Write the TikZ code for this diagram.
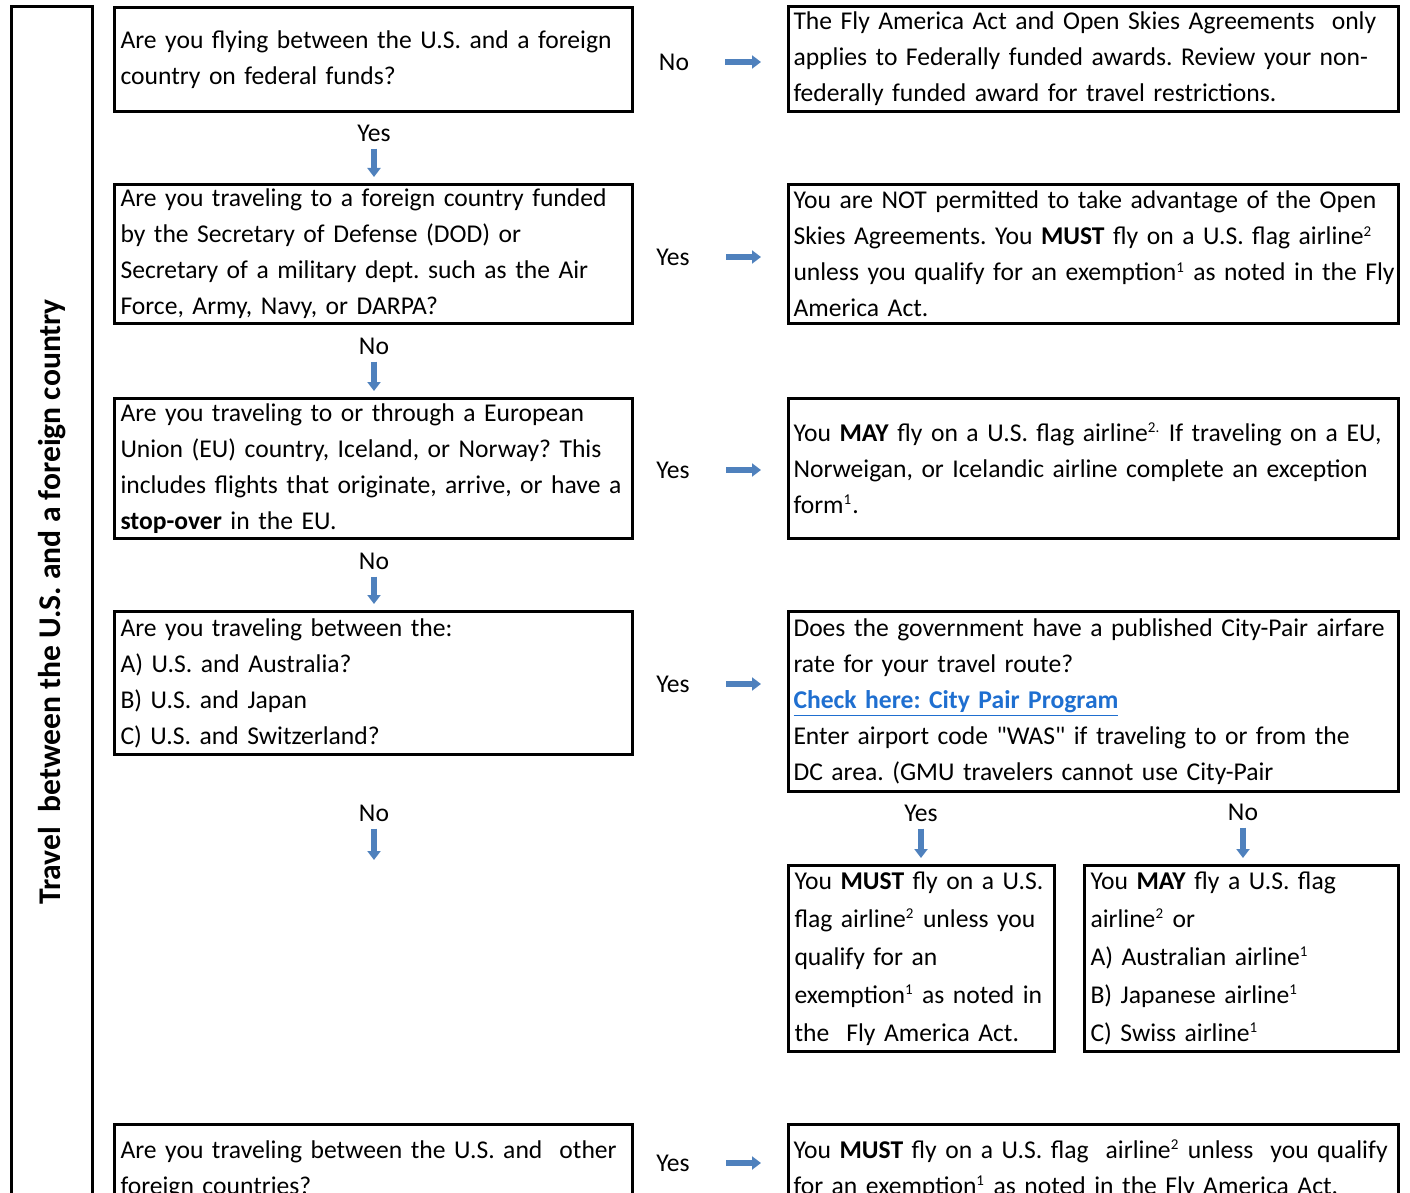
\documentclass[tikz,border=0pt]{standalone}
\usepackage{fontspec}
\setmainfont{Carlito}
\newfontfamily\quotefont{Carlito}
\usepackage{xcolor}
\definecolor{arrowblue}{HTML}{4F81BD}
\definecolor{linkblue}{HTML}{1F6FD0}
\usetikzlibrary{arrows.meta}

\newcommand{\sfont}{\fontsize{12.8pt}{18pt}\selectfont}
\newcommand{\fnm}[1]{\textsuperscript{\fontsize{7.5pt}{8pt}\selectfont #1}}
\newcommand{\dq}{{\quotefont"}}
\frenchspacing

\begin{document}
\begin{tikzpicture}[x=0.5pt,y=-0.5pt,
    box/.style={draw,line width=1.5pt,anchor=north west,align=left,inner xsep=3pt,inner ysep=2pt,font=\sfont},
    qbox/.style={box,minimum width=259pt,text width=253pt},
    abox/.style={box,minimum width=305pt,text width=300pt,inner xsep=2.5pt},
    lab/.style={inner sep=0pt,font=\sfont},
    varrow/.style={line width=2.75pt,arrowblue,-{Triangle[length=4.5pt,width=6.5pt]},shorten <=3.5pt,shorten >=3pt},
    harrow/.style={line width=2.75pt,arrowblue,-{Triangle[length=4.5pt,width=6.5pt]},shorten <=18pt,shorten >=13pt}]

  \useasboundingbox (0,0) rectangle (1410,1193);
  \clip (0,0) rectangle (1410,1193);

  \node[draw,line width=1.5pt,rotate=90,minimum width=595.5pt,minimum height=40.5pt,
        font=\fontsize{15.8pt}{18pt}\selectfont\bfseries] (side) at (52,602)
        {Travel\ \ between the U.S. and a foreign country};

  % questions
  \node[qbox,minimum height=52pt] (q1) at (113,6)
    {Are you flying between the U.S. and a foreign\\ country on federal funds?};
  \node[qbox,minimum height=69.5pt] (q2) at (113,183)
    {Are you traveling to a foreign country funded\\ by the Secretary of Defense (DOD) or\\
     Secretary of a military dept. such as the Air\\ Force, Army, Navy, or DARPA?};
  \node[qbox,minimum height=70pt] (q3) at (113,397)
    {Are you traveling to or through a European\\ Union (EU) country, Iceland, or Norway? This\\
     includes flights that originate, arrive, or have a\\ \textbf{stop-over} in the EU.};
  \node[qbox,minimum height=71.5pt] (q4) at (113,610)
    {Are you traveling between the:\\ A) U.S. and Australia?\\ B) U.S. and Japan\\ C) U.S. and Switzerland?};
  \node[qbox,minimum height=45pt] (q5) at (113,1123)
    {Are you traveling between the U.S. and\ \ other\\ foreign countries?};

  % answers
  \node[abox,minimum height=52.5pt] (a1) at (787,5)
    {The Fly America Act and Open Skies Agreements\ \ only\\ applies to Federally funded awards. Review your non-\\
     federally funded award for travel restrictions.};
  \node[abox,minimum height=69.5pt] (a2) at (787,183)
    {You are NOT permitted to take advantage of the Open\\
     Skies Agreements. You \textbf{MUST} fly on a U.S. flag airline\fnm{2}\\
     \mbox{unless you qualify for an exemption\fnm{1} as noted in the Fly}\\ America Act.};
  \node[abox,minimum height=70pt] (a3) at (787,397)
    {You \textbf{MAY} fly on a U.S. flag airline\fnm{2.} If traveling on a EU,\\
     Norweigan, or Icelandic airline complete an exception\\ form\fnm{1}.};
  \node[abox,minimum height=90pt] (a4) at (787,610)
    {Does the government have a published City-Pair airfare\\ rate for your travel route?\\
     {\color{linkblue}\underline{\textbf{Check here: City Pair Program}}}\\
     Enter airport code \dq WAS\dq{} if traveling to or from the\\ DC area. (GMU travelers cannot use City-Pair};
  \node[box,minimum width=133pt,text width=127pt,minimum height=93pt,font=\fontsize{12.8pt}{19pt}\selectfont] (a5) at (787,864)
    {You \textbf{MUST} fly on a U.S.\\ flag airline\fnm{2} unless you\\ qualify for an\\
     exemption\fnm{1} as noted in\\ the\ \ Fly America Act.};
  \node[box,minimum width=157pt,text width=151pt,minimum height=93pt,font=\fontsize{12.8pt}{19pt}\selectfont] (a6) at (1083,864)
    {You \textbf{MAY} fly a U.S. flag\\ airline\fnm{2} or\\ A) Australian airline\fnm{1}\\
     B) Japanese airline\fnm{1}\\ C) Swiss airline\fnm{1}};
  \node[abox,minimum height=45pt] (a7) at (787,1123)
    {You \textbf{MUST} fly on a U.S. flag\ \ airline\fnm{2} unless\ \ you qualify\\
     for an exemption\fnm{1} as noted in the Fly America Act.};

  % yes / no
  \node[lab] (v1) at (374,133) {Yes};
  \node[lab] (v2) at (374,346) {No};
  \node[lab] (v3) at (374,561) {No};
  \node[lab] (v4) at (374,813) {No};
  \node[lab] (h1) at (674,62) {No};
  \node[lab] (h2) at (673,257) {Yes};
  \node[lab] (h3) at (673,470) {Yes};
  \node[lab] (h4) at (673,684) {Yes};
  \node[lab] (h5) at (673,1163) {Yes};
  \node[lab] (c1) at (921,813) {Yes};
  \node[lab] (c2) at (1243,812) {No};
  \coordinate (v4end) at (374,866);

  \draw[varrow] (v1.south) -- (v1.south |- q2.north);
  \draw[varrow] (v2.south) -- (v2.south |- q3.north);
  \draw[varrow] (v3.south) -- (v3.south |- q4.north);
  \draw[varrow] (v4.south) -- (v4end);
  \draw[varrow] (c1.south) -- (c1.south |- a5.north);
  \draw[varrow] (c2.south) -- (c2.south |- a6.north);

  \draw[harrow] (h1.east) -- (h1.east -| a1.west);
  \draw[harrow] (h2.east) -- (h2.east -| a2.west);
  \draw[harrow] (h3.east) -- (h3.east -| a3.west);
  \draw[harrow] (h4.east) -- (h4.east -| a4.west);
  \draw[harrow] (h5.east) -- (h5.east -| a7.west);

\end{tikzpicture}
\end{document}
